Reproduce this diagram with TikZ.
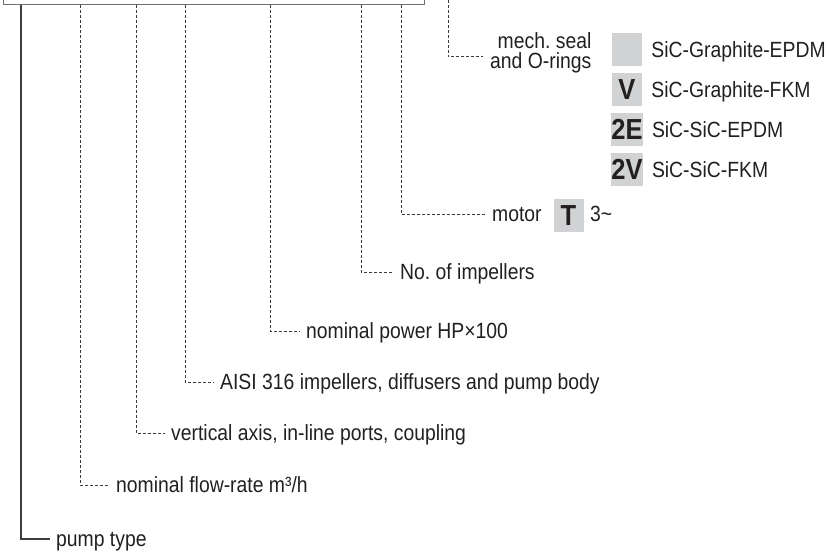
\documentclass[tikz,border=0pt]{standalone}
\usepackage{fontspec}
\setmainfont[FakeStretch=0.88]{Liberation Sans}
\usetikzlibrary{positioning}
\frenchspacing
\definecolor{legline}{HTML}{3C3C3C}
\definecolor{legbox}{HTML}{6E6E6E}
\definecolor{legfill}{HTML}{D1D2D4}
\definecolor{legink}{HTML}{231F20}
\tikzset{
  leader/.style   = {legline,line width=1pt,dash pattern=on 3pt off 2pt},
  typeline/.style = {legline,line width=1.4pt},
  legtext/.style  = {font=\fontsize{22}{22}\selectfont,text=legink,inner sep=0pt,
                     text height=15.5pt,text depth=0pt},
  codekey/.style  = {fill=legfill,inner sep=0pt,minimum width=30pt,
                     minimum height=33pt,text=legink,
                     font=\bfseries\fontsize{29}{29}\selectfont}
}
% #1 name, #2 x of the drop, #3 y of the label, #4 x of the label, #5 text
\newcommand{\codeleg}[5]{%
  \coordinate (#1-drop) at (#2,5);
  \node[legtext,anchor=west] (#1) at (#4,#3) {#5};
  \draw[leader,shorten >=6pt] (#1-drop) |- (#1.west);
}

\begin{document}
\begin{tikzpicture}[x=1pt,y=-1pt]
  \useasboundingbox (0,0) rectangle (829,551);
  \clip (0,0) rectangle (829,551);
  \node[draw=legbox,line width=1.3pt,inner sep=0pt,minimum width=421pt,
        minimum height=60pt,anchor=south west] (code) at (3,5) {};

  % pump type
  \coordinate (type-drop) at (21,5);
  \node[legtext,anchor=west] (type) at (56,539) {pump type};
  \draw[typeline,shorten >=6pt] (type-drop) |- (type.west);

  \codeleg{flow}{80}{485}{116}{nominal flow-rate m³/h}
  \codeleg{axis}{136}{433}{171}{vertical axis, in-line ports, coupling}
  \codeleg{body}{185}{382}{220}{AISI 316 impellers, diffusers and pump body}
  \codeleg{power}{270}{331}{306}{nominal power HP×100}
  \codeleg{stages}{361}{272}{400}{No. of impellers}
  \codeleg{motor}{401}{214}{492}{motor}
  \node[codekey] (tkey) at (568.5,215.5) {T};
  \node[legtext,anchor=west] (phase) at (590,214) {3\textasciitilde};

  % mech. seal
  \coordinate (seal-drop) at (448,-5);
  \node[legtext,anchor=west] (seal2) at (490,61) {and O-rings};
  \node[legtext,anchor=east] (seal1) at ([yshift=20pt]seal2.east) {mech. seal};
  \draw[leader,shorten >=7pt] (seal-drop) |- ([yshift=4pt]seal2.west);

  \foreach \k/\m [count=\i] in {{}/SiC-Graphite-EPDM,V/SiC-Graphite-FKM,
                                2E/SiC-SiC-EPDM,2V/SiC-SiC-FKM}{
    \node[codekey] (key\i) at (627,9.5+40*\i) {\k};
    \node[legtext,right=9pt of key\i] (mat\i) {\m};
  }
\end{tikzpicture}
\end{document}
